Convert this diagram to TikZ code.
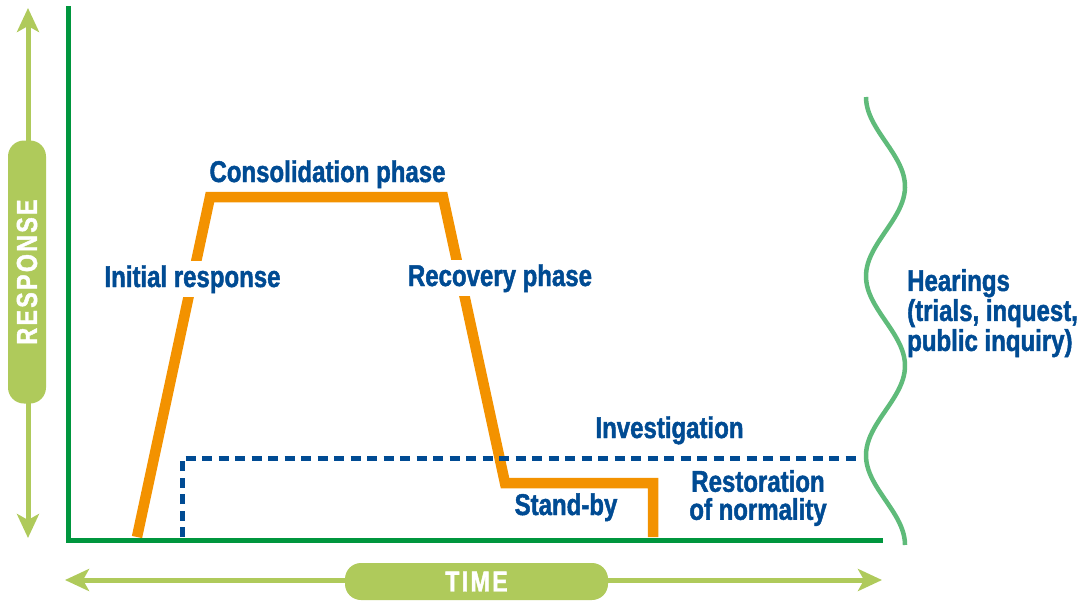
\documentclass[tikz,border=0pt]{standalone}
\usepackage{fontspec}
\setmainfont{Liberation Sans}[FakeStretch=0.8, BoldFeatures={FakeBold=1.5}]
\newfontfamily\capsfont{Liberation Sans}[FakeStretch=0.8, LetterSpace=8, BoldFeatures={FakeBold=1.5}]
\usetikzlibrary{arrows.meta}

\begin{document}
\begin{tikzpicture}[x=1pt, y=-1pt,
  phase/.style={text=labelblue, font=\fontsize{30}{30}\selectfont\bfseries, inner sep=4pt},
  scalearrow/.style={draw=lightgreen, line width=5pt,
    {Stealth[length=24pt, width=22pt, inset=6pt]}-{Stealth[length=24pt, width=22pt, inset=6pt]}},
  scalepill/.style={fill=lightgreen, rounded corners=16pt, text=white, inner sep=0pt,
    font=\capsfont\fontsize{29}{29}\selectfont\bfseries}]

% Define colors
\definecolor{axisgreen}{RGB}{0,150,62}
\definecolor{lightgreen}{RGB}{175,202,91}
\definecolor{wavegreen}{RGB}{95,187,122}
\definecolor{profileorange}{RGB}{243,146,0}
\definecolor{labelblue}{RGB}{0,75,147}

\useasboundingbox (0,0) rectangle (1089,608);

% Corners of the response profile
\coordinate (P0) at (137,537);
\coordinate (P1) at (210,197);
\coordinate (P2) at (443,197);
\coordinate (P3) at (505,483);
\coordinate (P4) at (653,483);
\coordinate (P5) at (653,537);

% Corners of the investigation line
\coordinate (I0) at (182,537);
\coordinate (I1) at (182,458);
\coordinate (I2) at (862,458);

% Axes
\coordinate (O) at (68,540);
\coordinate (Ytop) at (68,8);
\coordinate (Xend) at (880,540);

% Response profile
\draw[profileorange, line width=10.5pt, line join=miter] (P0) -- (P1) -- (P2) -- (P3) -- (P4) -- (P5);

% Investigation (dashed)
\draw[labelblue, line width=5pt, dash pattern=on 10pt off 6.5pt] (I0) -- (I1) -- (I2);

% Axes drawn on top
\draw[axisgreen, line width=5pt, line cap=rect] (Ytop) -- (O) -- (Xend);

% Hearings (wavy line)
\draw[wavegreen, line width=4.5pt]
  plot[domain=0:448, samples=120, smooth] ({885.5-19.5*cos(2.00893*\x)}, {\x+97});

% Phase labels
\node[phase, anchor=base] (consol) at (327.5,182) {Consolidation phase};
\node[phase, anchor=base, fill=white] (initial) at (192.5,287) {Initial response};
\node[phase, anchor=base, fill=white] (recovery) at (500,286) {Recovery phase};
\node[phase, anchor=base] (invest) at (669.5,438) {Investigation};
\node[phase, anchor=base] (standby) at (566,515) {Stand-by};
\node[phase, align=center, font=\fontsize{30}{28}\selectfont\bfseries] (restore) at (758,498)
  {Restoration\\of normality};
\node[phase, align=left, anchor=north west] (hearings) at (903,265)
  {Hearings\\(trials, inquest,\\public inquiry)};

% Response scale
\coordinate (Rtop) at (28,8);
\coordinate (Rbot) at (28,538);
\draw[scalearrow] (Rtop) -- (Rbot);
\node[scalepill, rotate=90, minimum width=263pt, minimum height=38pt] (response) at (27,272) {RESPONSE};

% Time scale
\coordinate (Tleft) at (65,580);
\coordinate (Tright) at (882,580);
\draw[scalearrow] (Tleft) -- (Tright);
\node[scalepill, minimum width=263pt, minimum height=37pt] (time) at (476.5,581.5) {TIME};

\end{tikzpicture}
\end{document}
